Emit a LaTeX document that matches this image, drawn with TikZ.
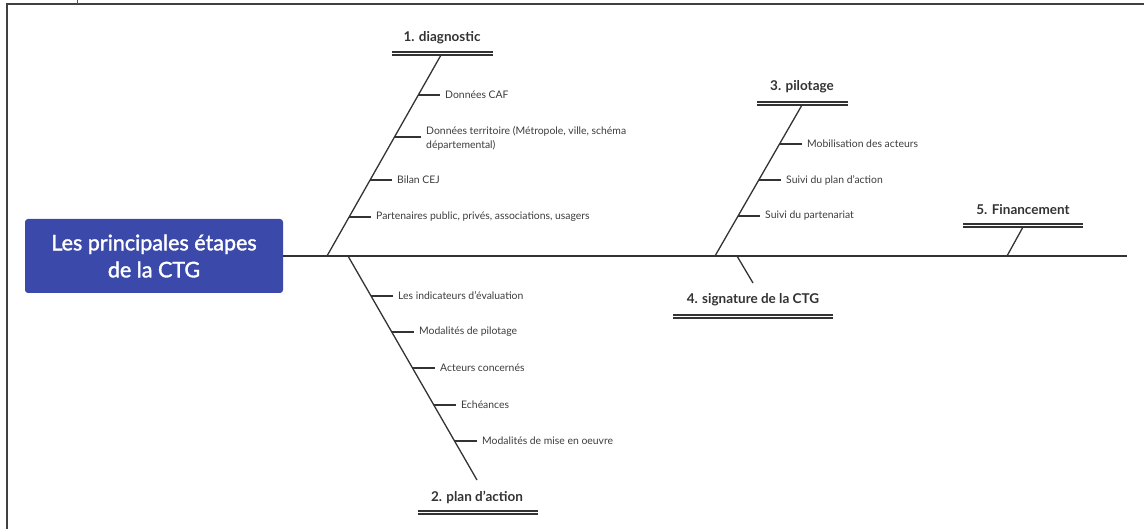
\documentclass[tikz,border=0pt]{standalone}
\usepackage{fontspec}
\setmainfont{Lato}
\newfontfamily\rootfont{Lato}[FakeBold=1.6]
\definecolor{rootblue}{RGB}{59,74,170}
\definecolor{ink}{RGB}{51,51,51}
\definecolor{subink}{RGB}{60,60,60}
\begin{document}
\begin{tikzpicture}[x=1pt,y=-1pt,
  bone/.style={draw=ink, line width=1.3pt},
  tick/.style={draw=ink, line width=1.2pt},
  dline/.style={draw=ink, line width=1.3pt, double=white, double distance=1.6pt},
  rootbox/.style={fill=rootblue, rounded corners=3pt, minimum width=258pt, minimum height=74pt,
    text=white, align=center, font=\rootfont\fontsize{21.5}{27}\selectfont, inner sep=0pt},
  title/.style={text=ink, font=\fontsize{13.5}{15}\selectfont\bfseries, inner sep=2pt},
  sub/.style={text=subink, font=\fontsize{10.4}{14}\selectfont, anchor=west, align=left, inner xsep=5pt, inner ysep=1pt},
  frame/.style={draw=black!75, line width=1.5pt}]
\useasboundingbox (0,0) rectangle (1144,529);

% page frame
\draw[frame] (7,529) -- (7,4) -- (1144,4);
\draw[draw=brown!60!black, line width=1pt] (77,0) -- (77,4);

% central node and spine
\node[rootbox] (root) at (154,256) {Les principales étapes\\de la CTG};
\coordinate (spineend) at (1127,256);
\draw[bone] (root.east) -- (spineend);

% 1. diagnostic
\coordinate (b1) at (327,256);
\node[title] (t1) at (442,38) {1. diagnostic};
\coordinate (u1a) at (392,53.5);
\coordinate (u1b) at (493,53.5);
\coordinate (e1) at (441,55);
\draw[dline] (u1a) -- (u1b);
\draw[bone] (b1) -- (e1);
\coordinate (k11) at (418,95);
\coordinate (k12) at (394,137);
\coordinate (k13) at (370,180);
\coordinate (k14) at (349,217);
\node[sub] (s11) at (440,95) {Données CAF};
\node[sub] (s12) at (421,138) {Données territoire (Métropole, ville, schéma\\départemental)};
\node[sub] (s13) at (392,180) {Bilan CEJ};
\node[sub] (s14) at (371,217) {Partenaires public, privés, associations, usagers};
\draw[tick] (k11) -- (k11 -| s11.west);
\draw[tick] (k12) -- (k12 -| s12.west);
\draw[tick] (k13) -- (k13 -| s13.west);
\draw[tick] (k14) -- (k14 -| s14.west);

% 2. plan d'action
\coordinate (b2) at (348,256);
\node[title] (t2) at (477,497) {2. plan d'action};
\coordinate (u2a) at (418,512.5);
\coordinate (u2b) at (538,512.5);
\coordinate (e2) at (477,480);
\draw[dline] (u2a) -- (u2b);
\draw[bone] (b2) -- (e2);
\coordinate (k21) at (371,296);
\coordinate (k22) at (392,332);
\coordinate (k23) at (413,368);
\coordinate (k24) at (434,405);
\coordinate (k25) at (455,441);
\node[sub] (s21) at (393,296) {Les indicateurs d'évaluation};
\node[sub] (s22) at (414,332) {Modalités de pilotage};
\node[sub] (s23) at (435,368) {Acteurs concernés};
\node[sub] (s24) at (456,405) {Echéances};
\node[sub] (s25) at (477,441) {Modalités de mise en oeuvre};
\draw[tick] (k21) -- (k21 -| s21.west);
\draw[tick] (k22) -- (k22 -| s22.west);
\draw[tick] (k23) -- (k23 -| s23.west);
\draw[tick] (k24) -- (k24 -| s24.west);
\draw[tick] (k25) -- (k25 -| s25.west);

% 3. pilotage
\coordinate (b3) at (715,256);
\node[title] (t3) at (802,87) {3. pilotage};
\coordinate (u3a) at (757,103.5);
\coordinate (u3b) at (848,103.5);
\coordinate (e3) at (802,105);
\draw[dline] (u3a) -- (u3b);
\draw[bone] (b3) -- (e3);
\coordinate (k31) at (780,144);
\coordinate (k32) at (759,180);
\coordinate (k33) at (738,216);
\node[sub] (s31) at (802,144) {Mobilisation des acteurs};
\node[sub] (s32) at (781,180) {Suivi du plan d'action};
\node[sub] (s33) at (760,216) {Suivi du partenariat};
\draw[tick] (k31) -- (k31 -| s31.west);
\draw[tick] (k32) -- (k32 -| s32.west);
\draw[tick] (k33) -- (k33 -| s33.west);

% 4. signature de la CTG
\coordinate (b4) at (737,256);
\node[title] (t4) at (753,300) {4. signature de la CTG};
\coordinate (u4a) at (673,316.5);
\coordinate (u4b) at (833,316.5);
\coordinate (e4) at (753,283);
\draw[dline] (u4a) -- (u4b);
\draw[bone] (b4) -- (e4);

% 5. Financement
\coordinate (b5) at (1007,256);
\node[title] (t5) at (1023,210) {5. Financement};
\coordinate (u5a) at (963,225.5);
\coordinate (u5b) at (1083,225.5);
\coordinate (e5) at (1023,227);
\draw[dline] (u5a) -- (u5b);
\draw[bone] (b5) -- (e5);
\end{tikzpicture}
\end{document}
